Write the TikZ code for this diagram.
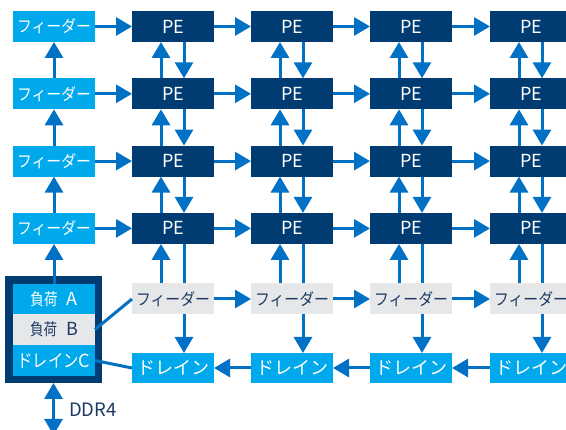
\documentclass[tikz,border=0pt]{standalone}
\usepackage{graphicx}
\usepackage{fontspec}
\setmainfont{Noto Sans CJK JP}
\usetikzlibrary{arrows.meta}
\definecolor{lblue}{HTML}{00A9EC}
\definecolor{navy}{HTML}{003C71}
\definecolor{ablue}{HTML}{0071C5}
\definecolor{lgray}{HTML}{E6E7E8}
\definecolor{gtext}{HTML}{1D3A66}
\newcommand\fdrtxt{\scalebox{0.9}[1]{\fontsize{16.5}{18}\selectfont フィーダー}}
\newcommand\drntxt{ドレイン}
\tikzset{
 box/.style={minimum width=82pt, minimum height=31pt, inner sep=0pt, outer sep=0pt, font=\fontsize{18}{20}\selectfont},
 feed/.style={box, fill=lblue, text=white},
 pe/.style={box, fill=navy, text=white},
 gfeed/.style={box, fill=lgray, text=gtext},
 drain/.style={box, fill=lblue, text=white, minimum height=30pt},
 arr/.style={draw=ablue, line width=3pt, -{Triangle[length=16pt,width=18pt]}},
 ln/.style={draw=ablue, line width=3pt},
 darr/.style={draw=ablue, line width=3pt, {Triangle[length=16pt,width=18pt]}-{Triangle[length=16pt,width=18pt]}},
}
\begin{document}
\begin{tikzpicture}[x=1pt,y=-1pt]
\useasboundingbox (0,0) rectangle (566,430);
% grid
\foreach \i/\y in {1/26.5,2/93.8,3/161.1,4/228.4}{
  \node[feed] (f\i) at (54,\y) {\fdrtxt};
  \foreach \j/\x in {1/173,2/292,3/411,4/531}{
    \node[pe] (p\i\j) at (\x,\y) {PE};
  }
}
\foreach \j/\x in {1/173,2/292,3/411,4/531}{
  \node[gfeed] (g\j) at (\x,299) {\fdrtxt};
  \node[drain] (d\j) at (\x,368) {\drntxt};
}
% left block
\node[fill=navy, minimum width=97pt, minimum height=107pt, inner sep=0pt, outer sep=0pt] (big) at (53.5,329.5) {};
\node[box, fill=lblue, text=white, minimum height=30pt] (la) at (54,299)
  {\scalebox{0.82}[1]{\fontsize{16.5}{18}\selectfont 負荷}\hspace{9pt}A};
\node[box, fill=lgray, text=gtext] (lb) at (54,329.5)
  {\scalebox{0.82}[1]{\fontsize{16.5}{18}\selectfont 負荷}\hspace{9pt}B};
\node[box, fill=lblue, text=white] (lc) at (54,360.5)
  {\scalebox{0.85}[1]{ドレイン}C};
\coordinate (ddrend) at (53.5,435);
\node[text=gtext, font=\fontsize{18.5}{20}\selectfont, anchor=west, inner sep=0pt] (ddrl) at (69,410) {DDR4};
% left feeder column
\foreach \a/\b in {2/1,3/2,4/3}{ \draw[arr] (f\a.north) -- (f\b.south); }
\draw[arr] (la.north) -- (f4.south);
% horizontal in PE rows
\foreach \i in {1,2,3,4}{
  \draw[arr] (f\i.east) -- (p\i1.west);
  \foreach \a/\b in {1/2,2/3,3/4}{ \draw[arr] (p\i\a.east) -- (p\i\b.west); }
}
% vertical between PE rows
\foreach \a/\b in {1/2,2/3,3/4}{
  \foreach \j in {1,2,3,4}{
    \draw[arr] ([xshift=-12pt]p\b\j.north) -- ([xshift=-12pt]p\a\j.south);
    \draw[arr] ([xshift=11pt]p\a\j.south) -- ([xshift=11pt]p\b\j.north);
  }
}
% PE row 4 to gray feeders and drains
\foreach \j in {1,2,3,4}{
  \draw[arr] ([xshift=-12pt]g\j.north) -- ([xshift=-12pt]p4\j.south);
  \draw[ln] ([xshift=11pt]p4\j.south) -- ([xshift=11pt]g\j.north);
  \draw[arr] ([xshift=11pt]g\j.south) -- ([xshift=11pt]d\j.north);
}
\foreach \a/\b in {1/2,2/3,3/4}{
  \draw[arr] (g\a.east) -- (g\b.west);
  \draw[arr] (d\b.west) -- (d\a.east);
}
\draw[ln] (lb.east) -- (g1.west);
\draw[ln] (d1.west) -- (lc.east);
\draw[darr] (big.south) -- (ddrend);
\end{tikzpicture}
\end{document}
